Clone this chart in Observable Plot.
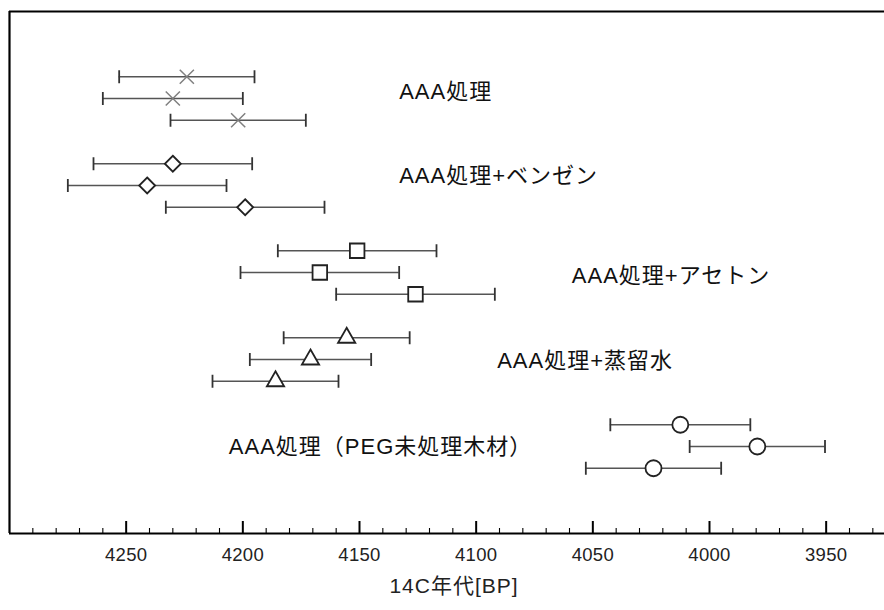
<!DOCTYPE html>
<html>
<head>
<meta charset="utf-8">
<script src="https://cdn.jsdelivr.net/npm/d3@7"></script>
<script src="https://cdn.jsdelivr.net/npm/@observablehq/plot@0.6"></script>
<style>
  html, body { margin: 0; padding: 0; background: #fff; overflow: hidden; }
  #chart svg text { letter-spacing: 1px; }
  #chart svg g[aria-label="x-axis tick label"] text { letter-spacing: 0.3px; }
</style>
</head>
<body>
<div id="chart"></div>
<script>
// ---- data ----
const groups = ["AAA処理", "AAA処理+ベンゼン", "AAA処理+アセトン", "AAA処理+蒸留水", "AAA処理（PEG未処理木材）"];
const ages = [
  [4224, 4230, 4202],
  [4230, 4241, 4199],
  [4151, 4167, 4126],
  [4155.5, 4171, 4186],
  [4012.5, 3979.5, 4024]
];
const errors = [
  [29, 30, 29],
  [34, 34, 34],
  [34, 34, 34],
  [27, 26, 27],
  [30, 29, 29]
];
// label anchor (x in BP years, y in row slots)
const labelX = [4133, 4133, 4059, 4091, 4206];
const labelY = [0.72, 4.54, 9.18, 13.05, 17.0];
const majorTicks = [4250, 4200, 4150, 4100, 4050, 4000, 3950];
const xTitle = "14C年代[BP]";

const xLeft = 4300, xRight = 3925;
const yTop = -3, yBottom = 21;
const minorTicks = d3.range(4290, 3925, -10).filter(v => !majorTicks.includes(v));

const rows = [];
ages.forEach((arr, g) => arr.forEach((age, i) => {
  rows.push({g, slot: g * 4 + i, age, lo: age + errors[g][i], hi: age - errors[g][i]});
}));
const caps = rows.flatMap(r => [{slot: r.slot, x: r.lo}, {slot: r.slot, x: r.hi}]);
const labels = groups.map((t, g) => ({t, x: labelX[g], y: labelY[g]}));

const capSymbol = {draw(ctx) { ctx.moveTo(0, -6.5); ctx.lineTo(0, 6.5); }};

const markerStyles = [
  {symbol: "times", r: 6.5, fill: "none", stroke: "#808080", strokeWidth: 1.5},
  {symbol: "diamond2", r: 7.2, fill: "white", stroke: "#222", strokeWidth: 1.8},
  {symbol: "square", r: 8.2, fill: "white", stroke: "#222", strokeWidth: 1.8},
  {symbol: "triangle", r: 6.4, fill: "white", stroke: "#222", strokeWidth: 1.8},
  {symbol: "circle", r: 8, fill: "white", stroke: "#222", strokeWidth: 1.8}
];

const W = 884, H = 610, mL = 9, mR = 0, mT = 11, mB = 77;
const innerH = H - mT - mB;

const marks = [
  Plot.ruleY([yTop, yBottom], {stroke: "#000", strokeWidth: 2.2}),
  Plot.ruleX([xLeft], {stroke: "#000", strokeWidth: 2.2}),
  Plot.ruleX(minorTicks, {stroke: "#000", strokeWidth: 1.1, insetTop: innerH - 5}),
  Plot.ruleX(majorTicks, {stroke: "#000", strokeWidth: 2, insetTop: innerH - 12}),
  Plot.axisX({ticks: majorTicks, tickSize: 0, tickPadding: 14, fontSize: 18.5, label: null, tickFormat: d => String(d), fill: "#222"}),
  Plot.text([xTitle], {frameAnchor: "bottom", text: d => d, dy: 59, dx: 7, fontSize: 21, fill: "#222"}),
  Plot.ruleY(rows, {y: "slot", x1: "lo", x2: "hi", stroke: "#555", strokeWidth: 1.6}),
  Plot.dot(caps, {x: "x", y: "slot", symbol: capSymbol, r: 5, fill: "none", stroke: "#333", strokeWidth: 1.8})
];
markerStyles.forEach((s, g) => {
  marks.push(Plot.dot(rows.filter(r => r.g === g), {x: "age", y: "slot", ...s}));
});
marks.push(Plot.text(labels, {x: "x", y: "y", text: "t", textAnchor: "start", lineAnchor: "middle", fontSize: 22, fill: "#111"}));

const plot = Plot.plot({
  width: W, height: H,
  marginLeft: mL, marginRight: mR, marginTop: mT, marginBottom: mB,
  style: {fontFamily: '"Liberation Sans", "Noto Sans CJK JP", sans-serif', background: "white", color: "#111", overflow: "visible"},
  x: {domain: [xLeft, xRight], axis: null},
  y: {domain: [yTop, yBottom], reverse: true, axis: null},
  marks
});
document.getElementById("chart").appendChild(plot);
</script>
</body>
</html>
